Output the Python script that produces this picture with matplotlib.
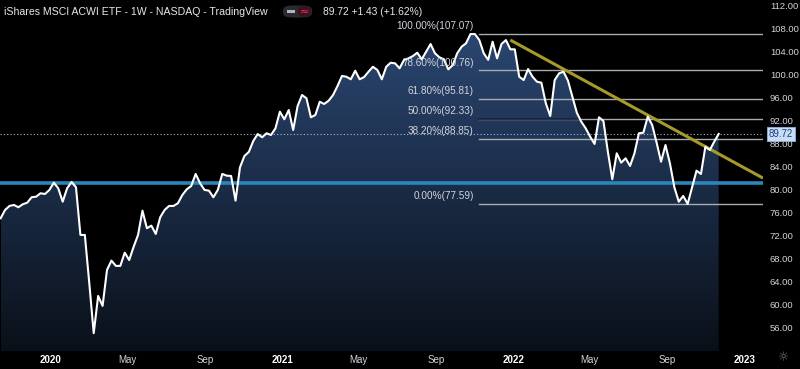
import numpy as np
import pandas as pd
import matplotlib
matplotlib.use('Agg')
import matplotlib.pyplot as plt
import matplotlib.dates as mdates
from matplotlib.colors import LinearSegmentedColormap
from matplotlib.patches import FancyBboxPatch, Rectangle

# weekly closes, iShares MSCI ACWI ETF
values = [75.07, 76.51, 77.21, 77.38, 76.98, 77.50, 77.78, 78.72, 78.82, 79.41,
          79.29, 79.99, 81.25, 80.28, 77.95, 80.28, 81.38, 80.46, 72.17, 72.17,
          63.80, 55.10, 61.57, 59.84, 66.09, 67.71, 66.79, 66.79, 69.10, 67.80,
          70.10, 72.17, 76.39, 73.33, 73.79, 72.34, 75.24, 76.51, 77.21, 77.21,
          77.68, 79.12, 80.11, 80.68, 82.77, 81.15, 79.99, 79.87, 78.72, 79.99,
          82.77, 82.47, 82.42, 78.13, 83.93, 85.89, 86.60, 88.50, 89.71, 89.14,
          89.84, 89.54, 90.70, 93.59, 92.27, 93.88, 90.41, 94.58, 96.49, 95.92,
          92.62, 93.01, 95.32, 94.93, 95.50, 96.49, 98.05, 99.79, 99.67, 99.22,
          100.71, 99.22, 99.61, 100.54, 101.40, 100.83, 99.22, 101.40, 102.10, 101.99,
          101.13, 102.57, 102.86, 103.26, 103.84, 102.69, 104.01, 105.35, 103.73, 103.04,
          102.69, 100.95, 101.70, 103.73, 104.88, 105.47, 107.08, 107.08, 106.04, 103.73,
          102.60, 105.75, 102.86, 105.35, 106.04, 104.43, 104.43, 99.67, 99.09, 101.00,
          99.67, 98.80, 98.63, 95.05, 92.84, 99.09, 100.26, 100.54, 98.97, 96.19,
          93.41, 91.85, 90.70, 89.25, 87.98, 92.62, 91.97, 86.64, 81.85, 86.36,
          84.73, 85.49, 84.16, 86.36, 89.84, 89.94, 92.72, 91.28, 88.20, 84.90,
          87.80, 84.62, 80.46, 77.95, 78.94, 77.56, 80.46, 83.34, 82.77, 87.51,
          86.93, 88.38, 89.72]
dates = pd.date_range(end='2022-11-21', periods=len(values), freq='W-MON')

fib_pcts = ['100.00%', '78.60%', '61.80%', '50.00%', '38.20%', '0.00%']
fib_levels = [107.07, 100.76, 95.81, 92.33, 88.85, 77.59]
fib_start = pd.Timestamp('2021-11-08')

support_level = 81.25
trend_dates = [pd.Timestamp('2021-12-27'), pd.Timestamp('2023-01-30')]
trend_values = [106.04, 82.05]
last_price = 89.72

y_ticks = np.arange(56, 113, 4)
x_ticks = pd.to_datetime(['2020-01-01', '2020-05-01', '2020-09-01', '2021-01-01',
                          '2021-05-01', '2021-09-01', '2022-01-01', '2022-05-01',
                          '2022-09-01', '2023-01-01'])
x_labels = ['2020', 'May', 'Sep', '2021', 'May', 'Sep', '2022', 'May', 'Sep', '2023']

W, H = 800, 369
txt = '#d1d4dc'
narrow = ['Liberation Sans Narrow', 'Liberation Sans', 'DejaVu Sans']

plt.rcParams['font.family'] = ['Liberation Sans', 'DejaVu Sans']

fig = plt.figure(figsize=(W / 100, H / 100), dpi=100, facecolor='black')
ax = fig.add_axes([0, 18 / H, 763 / W, 351 / H])
ax.set_facecolor('black')

x_left = pd.Timestamp('2019-10-13')
x_right = pd.Timestamp('2023-01-30')
y_lo, y_hi = 52.0, 113.0

# gradient area under the price line
poly = ax.fill_between(dates, values, y_lo, color='none', lw=0)
cmap = LinearSegmentedColormap.from_list('area', ['#0a1019', '#2b4772'])
grad = np.linspace(1, 0, 256).reshape(-1, 1)
img = ax.imshow(grad, extent=[mdates.date2num(dates[0]), mdates.date2num(dates[-1]), y_lo, 108],
                cmap=cmap, aspect='auto', origin='upper', zorder=1)
clip = poly.get_paths()[0]
img.set_clip_path(clip, transform=ax.transData)

# support line
ax.axhline(support_level, color='#2a86bd', lw=2.6, zorder=3)

# fib levels
for pct, lev in zip(fib_pcts, fib_levels):
    ax.plot([fib_start, x_right], [lev, lev], color='#a9abb0', lw=1.0, zorder=3)
    if pct == '50.00%':
        dark, = ax.plot([fib_start, x_right], [lev, lev], color='#0d1c38', lw=1.2, zorder=3.1)
        dark.set_clip_path(clip, transform=ax.transData)
    ax.annotate(pct + '(%.2f)' % lev, xy=(fib_start, lev), xytext=(-4, 2),
                textcoords='offset points', ha='right', va='bottom',
                color=txt, fontsize=7.2, family=narrow, zorder=6)

# last price dotted line
ax.axhline(last_price, color='#9fb8d8', lw=0.8, ls=(0, (1, 2)), zorder=2)

# trend line
ax.plot(trend_dates, trend_values, color='#a59a2a', lw=2.2, zorder=4, solid_capstyle='butt')

# price line
ax.plot(dates, values, color='white', lw=1.5, zorder=5)

ax.set_xlim(x_left, x_right)
ax.set_ylim(y_lo, y_hi)

ax.yaxis.tick_right()
ax.set_yticks(y_ticks)
ax.set_yticklabels(['%.2f' % v for v in y_ticks], color=txt, fontsize=6.8, family=narrow)
ax.tick_params(axis='y', length=0, pad=5)
ax.set_xticks(x_ticks)
ax.set_xticklabels(x_labels, color=txt, fontsize=7, family=narrow)
for lab in ax.get_xticklabels():
    if lab.get_text().isdigit():
        lab.set_fontweight('bold')
        lab.set_color('white')
ax.tick_params(axis='x', length=0, pad=3)
for s in ax.spines.values():
    s.set_visible(False)
ax.grid(False)

# last price tag
ax.annotate('%.2f' % last_price, xy=(1.0, last_price), xycoords=('axes fraction', 'data'),
            xytext=(4, 0), textcoords='offset points', ha='left', va='center',
            color='#1c3f78', fontsize=7, family=narrow, annotation_clip=False,
            bbox=dict(boxstyle='square,pad=0.2', fc='#c9def6', ec='#8fb4e0', lw=0.6))

# header
fig.text(4 / W, 1 - 12 / H, 'iShares MSCI ACWI ETF - 1W - NASDAQ - TradingView',
         color='#e6e8ee', fontsize=7.6, va='center', ha='left')
fig.patches.append(FancyBboxPatch((283 / W, 1 - 17.5 / H), 29 / W, 12 / H,
                                  boxstyle='round,pad=0,rounding_size=0.012',
                                  transform=fig.transFigure, fc='#2a2b30', ec='none'))
fig.patches.append(FancyBboxPatch((298 / W, 1 - 17 / H), 13 / W, 11 / H,
                                  boxstyle='round,pad=0,rounding_size=0.01',
                                  transform=fig.transFigure, fc='#3a1422', ec='none'))
fig.patches.append(Rectangle((287 / W, 1 - 12.5 / H), 8 / W, 2.5 / H,
                             transform=fig.transFigure, fc='#b2b5be', ec='none'))
fig.text(304.5 / W, 1 - 11.5 / H, '≈', color='#f23645', fontsize=8, ha='center', va='center',
         family='DejaVu Sans')
fig.text(323 / W, 1 - 12 / H, '89.72 +1.43 (+1.62%)', color='#e6e8ee', fontsize=7.4,
         va='center', ha='left')

# settings gear
fig.text(784 / W, 1 - 358 / H, '☼', color='#787b86', fontsize=9, ha='center', va='center',
         family='DejaVu Sans')

fig.savefig('out.png', dpi=100, facecolor='black')
